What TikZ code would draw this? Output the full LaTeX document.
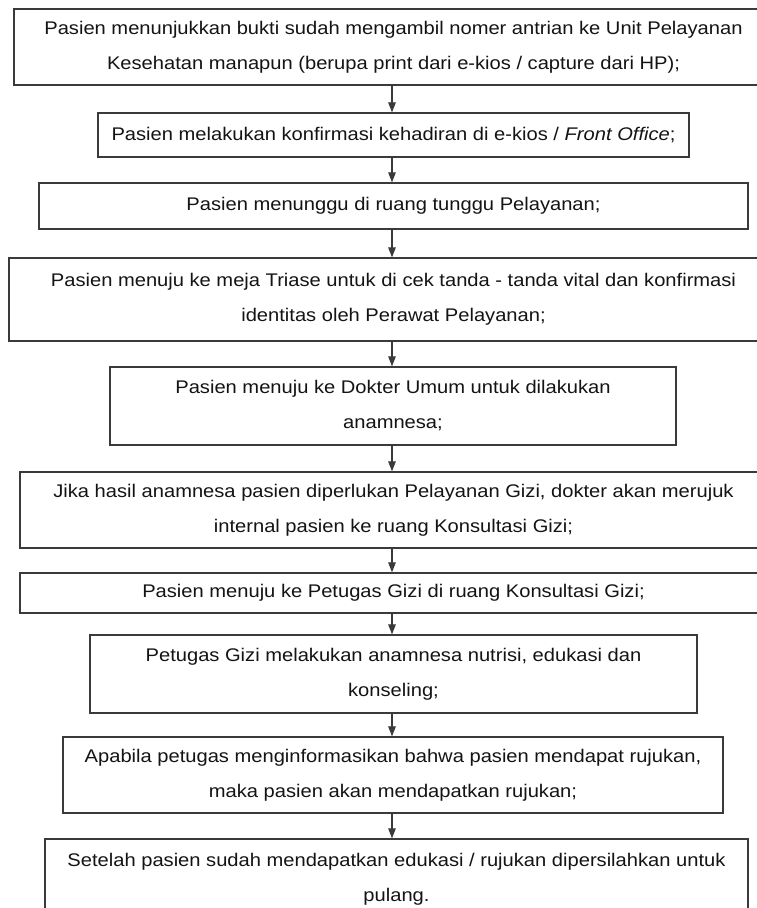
\documentclass[tikz,border=0pt]{standalone}
\usepackage{fontspec}
\setmainfont[FakeStretch=1.1]{Liberation Sans}
\usetikzlibrary{arrows.meta}
\definecolor{boxline}{HTML}{3A3A3A}
\definecolor{txt}{HTML}{141414}
\tikzset{
  stepbox/.style={draw=boxline, line width=1.3pt, rectangle, inner sep=0pt,
    align=center, text=txt, font=\fontsize{18.3}{35}\selectfont},
  arr/.style={draw=boxline, line width=1.2pt, -{Triangle[width=7.5pt,length=10pt]}}
}
\begin{document}
\begin{tikzpicture}[x=1pt,y=-1pt]
\useasboundingbox (0,0) rectangle (757,908);
\clip (0,0) rectangle (757,908);
\fill[white] (0,0) rectangle (757,908);
\coordinate (ax) at (392,0);
\node[stepbox, minimum width=759pt, minimum height=76pt] (b1) at (393.5,47)
  {Pasien menunjukkan bukti sudah mengambil nomer antrian ke Unit Pelayanan\\Kesehatan manapun (berupa print dari e-kios / capture dari HP);};
\node[stepbox, minimum width=591pt, minimum height=44pt] (b2) at (393.5,135)
  {Pasien melakukan konfirmasi kehadiran di e-kios / \textit{Front Office};};
\node[stepbox, minimum width=709pt, minimum height=46pt] (b3) at (393.5,206)
  {Pasien menunggu di ruang tunggu Pelayanan;};
\node[stepbox, minimum width=769pt, minimum height=83pt] (b4) at (393.5,299.5)
  {Pasien menuju ke meja Triase untuk di cek tanda - tanda vital dan konfirmasi\\identitas oleh Perawat Pelayanan;};
\node[stepbox, minimum width=566pt, minimum height=78pt] (b5) at (393,406)
  {Pasien menuju ke Dokter Umum untuk dilakukan\\anamnesa;};
\node[stepbox, minimum width=747pt, minimum height=76pt] (b6) at (393.5,510)
  {Jika hasil anamnesa pasien diperlukan Pelayanan Gizi, dokter akan merujuk\\internal pasien ke ruang Konsultasi Gizi;};
\node[stepbox, minimum width=747pt, minimum height=40pt] (b7) at (393.5,593)
  {Pasien menuju ke Petugas Gizi di ruang Konsultasi Gizi;};
\node[stepbox, minimum width=607pt, minimum height=78pt] (b8) at (393.5,674)
  {Petugas Gizi melakukan anamnesa nutrisi, edukasi dan\\konseling;};
\node[stepbox, minimum width=660pt, minimum height=76pt] (b9) at (393,775)
  {Apabila petugas menginformasikan bahwa pasien mendapat rujukan,\\maka pasien akan mendapatkan rujukan;};
\node[stepbox, minimum width=703pt, minimum height=80pt] (b10) at (396.5,879)
  {Setelah pasien sudah mendapatkan edukasi / rujukan dipersilahkan untuk\\pulang.};
\foreach \a/\b in {b1/b2,b2/b3,b3/b4,b4/b5,b5/b6,b6/b7,b7/b8,b8/b9,b9/b10}
  \draw[arr] (\a.south -| ax) -- (\b.north -| ax);
\end{tikzpicture}
\end{document}
